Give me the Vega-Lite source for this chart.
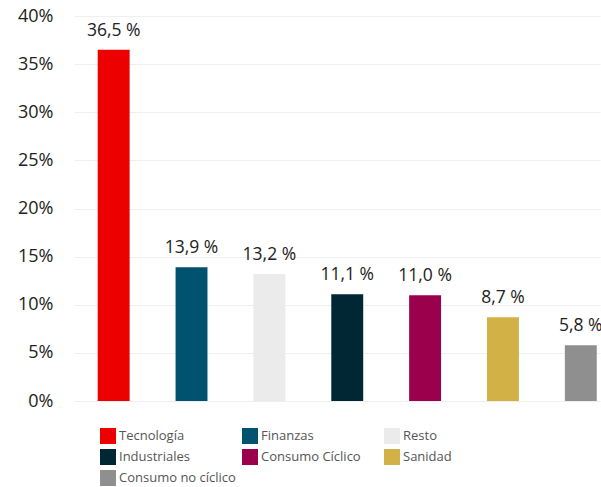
{
  "$schema": "https://vega.github.io/schema/vega-lite/v6.json",
  "autosize": "none",
  "width": 526,
  "height": 385,
  "padding": {"left": 74, "top": 16, "right": 1, "bottom": 86},
  "background": "white",
  "config": {"view": {"stroke": null}},
  "data": {
    "values": [
      {"sector": "Tecnología", "valor": 36.5},
      {"sector": "Finanzas", "valor": 13.9},
      {"sector": "Resto", "valor": 13.2},
      {"sector": "Industriales", "valor": 11.1},
      {"sector": "Consumo Cíclico", "valor": 11.0},
      {"sector": "Sanidad", "valor": 8.7},
      {"sector": "Consumo no cíclico", "valor": 5.8}
    ]
  },
  "encoding": {
    "x": {
      "field": "sector",
      "type": "nominal",
      "sort": null,
      "scale": {"paddingInner": 0.59, "paddingOuter": 0.173, "align": 0.88},
      "axis": null
    },
    "y": {
      "field": "valor",
      "type": "quantitative",
      "scale": {"domain": [0, 40], "nice": false},
      "axis": {
        "values": [0, 5, 10, 15, 20, 25, 30, 35, 40],
        "labelExpr": "datum.value + '%'",
        "domain": false,
        "ticks": false,
        "labelPadding": 21,
        "labelFont": "Open Sans",
        "labelFontSize": 18,
        "labelColor": "#222222",
        "gridColor": "#efefef",
        "gridWidth": 1,
        "title": null
      }
    }
  },
  "layer": [
    {
      "mark": {"type": "bar"},
      "encoding": {
        "color": {
          "field": "sector",
          "type": "nominal",
          "sort": null,
          "scale": {
            "domain": ["Tecnología", "Finanzas", "Resto", "Industriales", "Consumo Cíclico", "Sanidad", "Consumo no cíclico"],
            "range": ["#ec0000", "#00526f", "#ebebeb", "#002733", "#9b004d", "#d2b147", "#8f8f8f"]
          },
          "legend": {
            "orient": "none",
            "direction": "horizontal",
            "legendX": 26,
            "legendY": 412,
            "columns": 3,
            "gridAlign": "all",
            "columnPadding": 6,
            "rowPadding": 5,
            "padding": 0,
            "symbolType": "square",
            "symbolSize": 256,
            "symbolStrokeWidth": 0,
            "labelOffset": 3,
            "labelFont": "Open Sans",
            "labelFontSize": 13,
            "labelColor": "#555555",
            "labelLimit": 200,
            "title": null
          }
        }
      }
    },
    {
      "mark": {
        "type": "text",
        "baseline": "bottom",
        "dy": -10,
        "font": "Open Sans",
        "fontSize": 17.5,
        "color": "#222222",
        "text": {"expr": "replace(format(datum.valor, '.1f'), '.', ',') + ' %'"}
      },
      "encoding": {}
    }
  ]
}
